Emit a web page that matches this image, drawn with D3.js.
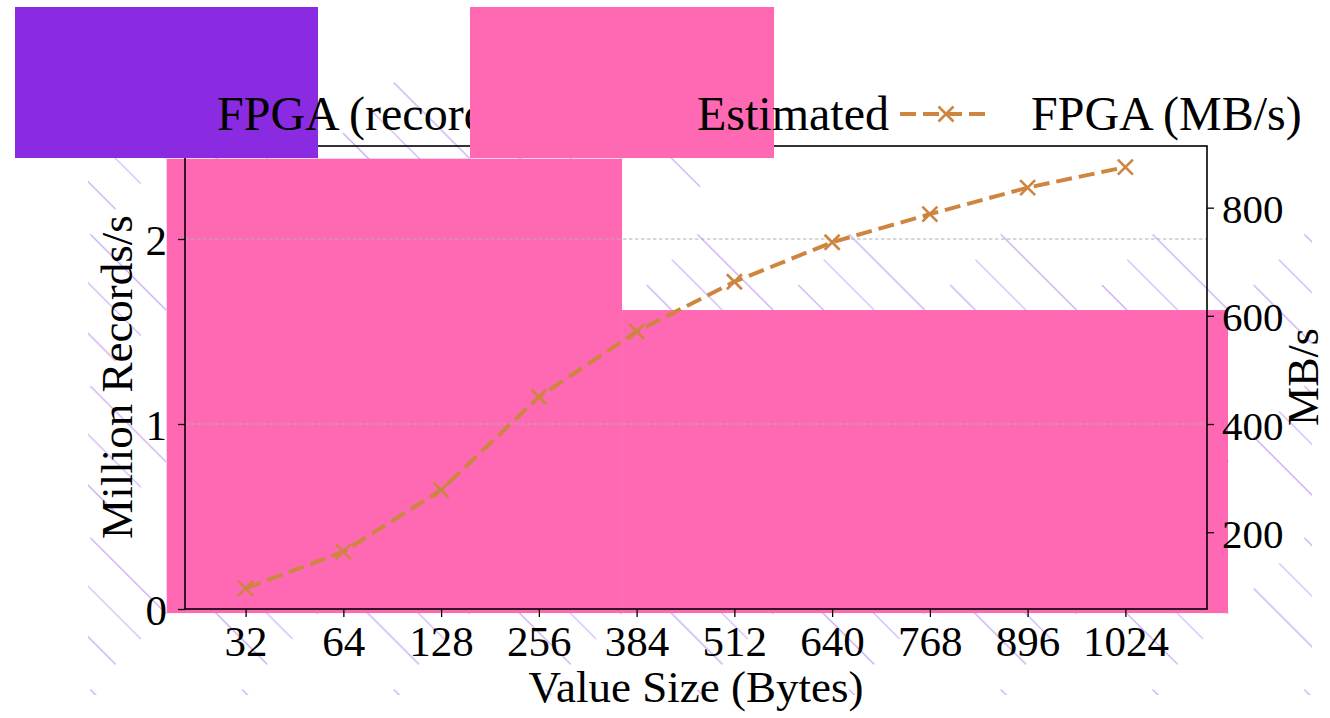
<!DOCTYPE html>
<html>
<head>
<meta charset="utf-8">
<script src="https://cdn.jsdelivr.net/npm/d3@7"></script>
<style>
  body { margin: 0; background: #fff; }
  text { font-family: "Liberation Serif", "Times New Roman", serif; fill: #000; }
</style>
</head>
<body>
<div id="chart"></div>
<script>
var WIDTH = 1330,
    HEIGHT = 718;

// value sizes on the x axis
var sizes = ["32", "64", "128", "256", "384", "512", "640", "768", "896", "1024"];
// FPGA throughput, MB/s (right axis)
var fpgaMBs = [96, 164, 278, 450, 571, 663, 736, 788, 837, 875];
// estimated blocks (million records/s), spanning category index ranges
var estFrom = [-0.807, 3.851];
var estTo = [3.851, 10.05];
var estValue = [2.434, 1.616];
var estBase = -0.022;
// axis ticks
var leftTicks = [0, 1, 2];
var rightTicks = [200, 400, 600, 800];
var legendLabels = ["FPGA (records/s)", "Estimated", "FPGA (MB/s)"];

var PINK = "#ff69b4",
    PURPLE = "#8a2be2",
    LINE = "#cd853f",
    HATCH = "#c4a6f3";

var x = d3.scaleLinear().domain([-0.62, 9.835]).range([185, 1207]),
    yL = d3.scaleLinear().domain([0, 2.5]).range([609, 146.5]),
    yR = d3.scaleLinear().domain([58, 914]).range([609, 146]);

var svg = d3.select("#chart").append("svg")
  .attr("width", WIDTH)
  .attr("height", HEIGHT);

svg.append("rect").attr("width", WIDTH).attr("height", HEIGHT).attr("fill", "#fff");

// hatch: diagonal checkerboard of "\" strokes
var L = 107.3;
var defs = svg.append("defs");
var pat = defs.append("pattern")
  .attr("id", "hatch")
  .attr("patternUnits", "userSpaceOnUse")
  .attr("width", 2 * L).attr("height", 2 * L)
  .attr("x", 551.5).attr("y", -452.5)
  .attr("patternTransform", "rotate(45)");
[[0, 0], [L, L]].forEach(function(o) {
  [1 / 6, 1 / 2, 5 / 6].forEach(function(f) {
    pat.append("line")
      .attr("x1", o[0]).attr("x2", o[0] + L)
      .attr("y1", o[1] + f * L).attr("y2", o[1] + f * L)
      .attr("stroke", HATCH).attr("stroke-width", 1.1);
  });
});
defs.append("clipPath").attr("id", "hatchClip")
  .append("path")
  .attr("d", "M88,80 L700,80 L700,232 L1312,232 L1312,695 L88,695 Z");

svg.append("rect")
  .attr("width", WIDTH).attr("height", HEIGHT)
  .attr("fill", "url(#hatch)")
  .attr("clip-path", "url(#hatchClip)");

// estimated blocks
svg.append("g").selectAll("rect")
  .data(estValue)
  .join("rect")
  .attr("x", function(d, i) { return x(estFrom[i]); })
  .attr("width", function(d, i) { return x(estTo[i]) - x(estFrom[i]); })
  .attr("y", function(d) { return yL(d); })
  .attr("height", function(d) { return yL(estBase) - yL(d); })
  .attr("fill", PINK);

// grid
svg.append("g").selectAll("line")
  .data(leftTicks.filter(function(d) { return d > 0; }))
  .join("line")
  .attr("x1", x.range()[0]).attr("x2", x.range()[1])
  .attr("y1", function(d) { return yL(d); })
  .attr("y2", function(d) { return yL(d); })
  .attr("stroke", "#b0b0b0")
  .attr("stroke-width", 1)
  .attr("stroke-dasharray", "3.5,2.5");

// MB/s line
var line = d3.line()
  .x(function(d, i) { return x(i); })
  .y(function(d) { return yR(d); });

svg.append("path")
  .datum(fpgaMBs)
  .attr("d", line)
  .attr("fill", "none")
  .attr("stroke", LINE)
  .attr("stroke-width", 4)
  .attr("stroke-dasharray", "16,7");

function cross(sel, s) {
  sel.append("path")
    .attr("d", "M" + (-s) + "," + (-s) + "L" + s + "," + s + "M" + (-s) + "," + s + "L" + s + "," + (-s))
    .attr("stroke", LINE)
    .attr("stroke-width", 2.6)
    .attr("fill", "none");
}
svg.append("g").selectAll("g")
  .data(fpgaMBs)
  .join("g")
  .attr("transform", function(d, i) { return "translate(" + x(i) + "," + yR(d) + ")"; })
  .call(cross, 7.5);

// frame
svg.append("rect")
  .attr("x", x.range()[0]).attr("y", yR.range()[1])
  .attr("width", x.range()[1] - x.range()[0])
  .attr("height", yL.range()[0] - yR.range()[1])
  .attr("fill", "none")
  .attr("stroke", "#000")
  .attr("stroke-width", 1.6);

// x axis
var xAxis = svg.append("g").attr("transform", "translate(0," + yL.range()[0] + ")")
  .call(d3.axisBottom(x).tickValues(d3.range(sizes.length)).tickFormat(function(i) { return sizes[i]; })
    .tickSize(8));
xAxis.select(".domain").remove();
xAxis.selectAll("line").attr("stroke", "#000").attr("stroke-width", 1.3);
xAxis.selectAll("text").attr("font-size", 43).attr("dy", 0).attr("y", 47);

// left axis
var lAxis = svg.append("g").attr("transform", "translate(" + x.range()[0] + ",0)")
  .call(d3.axisLeft(yL).tickValues(leftTicks).tickFormat(d3.format("d")).tickSize(7).tickPadding(11));
lAxis.select(".domain").remove();
lAxis.selectAll("line").attr("stroke", "#000").attr("stroke-width", 1.3);
lAxis.selectAll("text").attr("font-size", 43).attr("dy", 15);

// right axis
var rAxis = svg.append("g").attr("transform", "translate(" + x.range()[1] + ",0)")
  .call(d3.axisRight(yR).tickValues(rightTicks).tickFormat(d3.format("d")).tickSize(7).tickPadding(8));
rAxis.select(".domain").remove();
rAxis.selectAll("line").attr("stroke", "#000").attr("stroke-width", 1.3);
rAxis.selectAll("text").attr("font-size", 41).attr("dy", 15);

// axis titles
svg.append("text")
  .attr("x", (x.range()[0] + x.range()[1]) / 2).attr("y", 702)
  .attr("text-anchor", "middle").attr("font-size", 45)
  .text("Value Size (Bytes)");
svg.append("text")
  .attr("transform", "translate(132,377) rotate(-90)")
  .attr("text-anchor", "middle").attr("font-size", 45)
  .text("Million Records/s");
svg.append("text")
  .attr("transform", "translate(1318,377) rotate(-90)")
  .attr("text-anchor", "middle").attr("font-size", 44)
  .text("MB/s");

// legend (handles drawn in order, later ones overlap earlier text)
var legend = svg.append("g");
legend.append("rect").attr("x", 15).attr("y", 7).attr("width", 303).attr("height", 151).attr("fill", PURPLE);
legend.append("text").attr("x", 217).attr("y", 130).attr("font-size", 48).text(legendLabels[0]);
legend.append("rect").attr("x", 470).attr("y", 7).attr("width", 304).attr("height", 151).attr("fill", PINK);
legend.append("text").attr("x", 697).attr("y", 130).attr("font-size", 48).text(legendLabels[1]);
legend.append("line").attr("x1", 900).attr("x2", 992).attr("y1", 114).attr("y2", 114)
  .attr("stroke", LINE).attr("stroke-width", 4).attr("stroke-dasharray", "16,7");
legend.append("g").attr("transform", "translate(946,114)").call(cross, 7.5);
legend.append("text").attr("x", 1031).attr("y", 130).attr("font-size", 48).text(legendLabels[2]);
</script>
</body>
</html>
